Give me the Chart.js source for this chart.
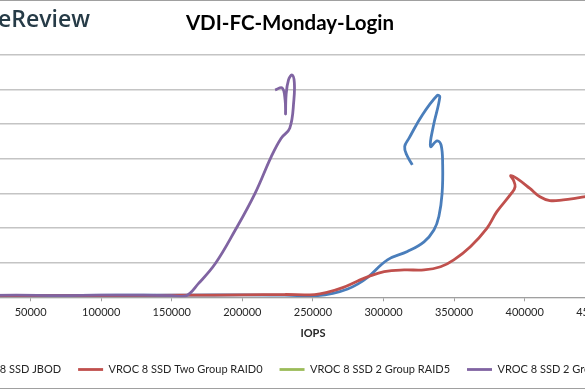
<!DOCTYPE html>
<html>
<head>
<meta charset="utf-8">
<title>VDI-FC-Monday-Login</title>
<script src="https://cdn.jsdelivr.net/npm/chart.js"></script>
<style>
  html, body { margin: 0; padding: 0; background: #fff; overflow: hidden; }
  body { width: 585px; height: 390px; position: relative; }
  #marco { position: absolute; left: -90px; top: 0; width: 780px; height: 389px; }
</style>
</head>
<body>
<div id="marco"><canvas id="vdi01" width="780" height="389"></canvas></div>
<script>
// DATOS (IOPS / latencia en ms)
var jbodIops = [12000, 60000, 110000, 160000, 200000, 230000, 253500, 264100, 274600, 281700, 288700, 302800, 316900, 328700, 335700, 339200, 341500, 341900, 340800, 338000, 333300, 335200, 339900, 338000, 327500, 318100, 315000, 316400, 320400];
var jbodLat = [0.05, 0.05, 0.06, 0.06, 0.07, 0.06, 0.05, 0.11, 0.24, 0.38, 0.57, 1.08, 1.32, 1.60, 1.94, 2.33, 3.00, 3.82, 4.39, 4.51, 4.35, 4.92, 5.78, 5.82, 5.26, 4.59, 4.35, 4.11, 3.82];

var raid0Iops = [12000, 60000, 110000, 160000, 200000, 230000, 251200, 260600, 271100, 281700, 288700, 300500, 314600, 328700, 340400, 349800, 361500, 373200, 380300, 390800, 393200, 392000, 390100, 394400, 403700, 410800, 417800, 427300, 436600, 450700];
var raid0Lat = [0.04, 0.05, 0.05, 0.06, 0.07, 0.08, 0.08, 0.15, 0.28, 0.47, 0.59, 0.74, 0.79, 0.79, 0.88, 1.08, 1.46, 1.99, 2.47, 3.01, 3.19, 3.38, 3.51, 3.43, 3.14, 2.90, 2.79, 2.81, 2.86, 2.95];

var raid5Iops = [12000, 80000, 150000];
var raid5Lat = [0.05, 0.05, 0.05];

var raid10Iops = [12000, 40000, 70000, 100000, 130000, 150000, 160000, 169000, 181000, 195000, 209000, 220500, 227500, 233600, 236500, 236800, 235200, 232700, 231000, 230600, 230300, 228200, 223200];
var raid10Lat = [0.05, 0.06, 0.05, 0.06, 0.06, 0.05, 0.04, 0.40, 0.98, 1.94, 3.00, 4.06, 4.59, 4.88, 5.69, 6.21, 6.41, 6.27, 5.84, 5.29, 5.69, 6.04, 5.98];

var nombres = ['VROC 8 SSD JBOD', 'VROC 8 SSD Two Group RAID0', 'VROC 8 SSD 2 Group RAID5', 'VROC 8 SSD 2 Group RAID10'];
var colores = ['#4a7ebb', '#c0504d', '#9bbb59', '#8064a2'];
var ordenes = [2, 1, 3, 0];

function puntos(xs, ys) {
  var p = [];
  for (var i = 0; i < xs.length; i++) {
    p.push({ x: xs[i], y: ys[i] });
  }
  return p;
}

var series = [puntos(jbodIops, jbodLat), puntos(raid0Iops, raid0Lat), puntos(raid5Iops, raid5Lat), puntos(raid10Iops, raid10Lat)];

var dataVdi = {
  datasets: series.map(function (s, i) {
    return {
      label: nombres[i],
      data: s,
      borderColor: colores[i],
      backgroundColor: colores[i],
      borderWidth: 2.8,
      pointRadius: 0,
      pointStyle: 'line',
      showLine: true,
      tension: 0.4,
      order: ordenes[i]
    };
  })
};

// MARCO Y LOGO
var marcaAgua = {
  id: 'marcaAgua',
  beforeDraw: function (chart) {
    var c = chart.ctx;
    c.save();
    c.fillStyle = '#ffffff';
    c.fillRect(0, 0, chart.width, chart.height);
    c.strokeStyle = '#a0a0a0';
    c.lineWidth = 1;
    c.strokeRect(0.5, 0.5, chart.width - 1, chart.height - 1);
    c.font = '600 23px "Open Sans"';
    c.fillStyle = '#263b47';
    c.textAlign = 'right';
    c.textBaseline = 'alphabetic';
    c.fillText('StorageReview', 180, 27);
    c.restore();
  }
};

var ctx01 = document.getElementById('vdi01');
var vdi01 = new Chart(ctx01, {
  type: 'scatter',
  data: dataVdi,
  plugins: [marcaAgua],
  options: {
    responsive: false,
    animation: false,
    devicePixelRatio: 1,
    layout: {
      padding: { left: 0, right: 20, top: 0, bottom: 4 }
    },
    plugins: {
      title: {
        display: true,
        text: 'VDI-FC-Monday-Login',
        color: '#000',
        font: { family: 'Lato', size: 20.5, weight: 'bold' },
        padding: { top: 11, bottom: 19 }
      },
      legend: {
        position: 'bottom',
        labels: {
          color: '#262626',
          font: { family: 'Lato', size: 11 },
          usePointStyle: true,
          pointStyle: 'line',
          pointStyleWidth: 25,
          padding: 17,
          sort: function (a, b) { return a.datasetIndex - b.datasetIndex; }
        }
      },
      tooltip: { enabled: false }
    },
    scales: {
      x: {
        type: 'linear',
        min: 0,
        max: 500000,
        afterFit: function (scale) { scale.height = 49.7; },
        ticks: {
          stepSize: 50000,
          color: '#262626',
          font: { family: 'Lato', size: 11 },
          padding: 5,
          maxRotation: 0,
          callback: function (v) { return String(v); }
        },
        grid: {
          drawOnChartArea: false,
          drawTicks: true,
          tickLength: 4,
          tickColor: '#a0a0a0'
        },
        border: { color: '#a0a0a0', width: 1 },
        title: {
          display: true,
          text: 'IOPS',
          color: '#262626',
          font: { family: 'Lato', size: 11, weight: 'bold' },
          padding: { top: 4, bottom: 7 }
        }
      },
      y: {
        min: 0,
        max: 7,
        afterFit: function (scale) { scale.width = 50; },
        ticks: {
          stepSize: 1,
          color: '#262626',
          font: { family: 'Lato', size: 11 }
        },
        grid: {
          color: '#c4c4c4',
          lineWidth: 1.5,
          drawTicks: false
        },
        border: { display: false }
      }
    }
  }
});
</script>
</body>
</html>
